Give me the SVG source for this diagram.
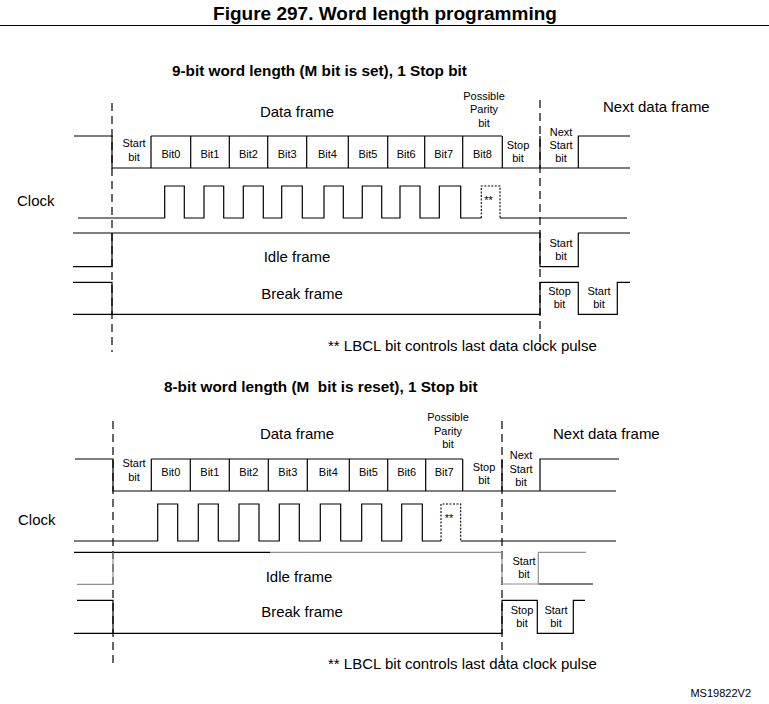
<svg xmlns="http://www.w3.org/2000/svg" width="769" height="704" viewBox="0 0 769 704">
<style>
text{font-family:"Liberation Sans",Arial,sans-serif;fill:#000}
.t{font-size:15px}
.st{font-size:15.3px;font-weight:bold}
.s{font-size:11px;text-anchor:middle}
.c{text-anchor:middle}
.b{font-weight:bold}
.ln{fill:none;stroke:#000;stroke-width:1.2}
.gr{fill:none;stroke:#909090;stroke-width:1.2}
.dot{fill:none;stroke:#000;stroke-width:1.1;stroke-dasharray:2,1.5}
.dash{fill:none;stroke:#000;stroke-width:1.2;stroke-dasharray:8,5}
</style>
<rect width="769" height="704" fill="#fff"/>
<g id="title">
<text x="385" y="20" class="c b" font-size="19">Figure 297. Word length programming</text>
<line x1="0" y1="25.5" x2="769" y2="25.5" stroke="#000" stroke-width="1"/>
</g>

<!-- ===== 9-bit section ===== -->
<g id="sec9-title"><text x="172" y="76" class="st">9-bit word length (M bit is set), 1 Stop bit</text></g>
<g id="connectors9">
<path class="dash" d="M112,103 V352 M540,100 V350"/>
<path class="ln" d="M74,136 H112 V168 H630 M151,136 H502 M151,136 V168 M190.7,136 V168 M229.3,136 V168 M267.7,136 V168 M306.7,136 V168 M348.3,136 V168 M387.7,136 V168 M424.7,136 V168 M462.7,136 V168 M502.3,136 V168 M540,136 V168 M578.3,168 V136 H630"/>
<path class="ln" d="M78,218 H164.7 V186 H184.3 V218 H204 V186 H223.7 V218 H243.3 V186 H263.3 V218 H281.7 V186 H302.3 V218 H324 V186 H343.3 V218 H362.3 V186 H381.7 V218 H400 V186 H420 V218 H439.3 V186 H460.7 V218 H481.3 M500,218 H627"/>
<path class="dot" d="M481.3,218 V186 H500 V218"/>
<path class="ln" d="M73,233 H540 V266.7 H578.3 V233 H630 M73,266.7 H112 V233"/>
<path class="ln" d="M73,282.3 H112 V314.3 H540 V282.3 H578.3 V314.3 H617.3 V282.3 H630 M73,314.3 H112"/>
</g>
<g id="df9-labels">
<text x="297" y="117" class="t c">Data frame</text>
<text x="484" y="100" class="s">Possible</text>
<text x="484" y="113" class="s">Parity</text>
<text x="484" y="127" class="s">bit</text>
<text x="603" y="112" class="t">Next data frame</text>
</g>
<g id="bits9">
<text x="134" y="147" class="s">Start</text><text x="134" y="161" class="s">bit</text>
<text x="171" y="158" class="s">Bit0</text>
<text x="210" y="158" class="s">Bit1</text>
<text x="248.5" y="158" class="s">Bit2</text>
<text x="287.2" y="158" class="s">Bit3</text>
<text x="327.5" y="158" class="s">Bit4</text>
<text x="368" y="158" class="s">Bit5</text>
<text x="406.2" y="158" class="s">Bit6</text>
<text x="443.7" y="158" class="s">Bit7</text>
<text x="482.5" y="158" class="s">Bit8</text>
<text x="518" y="149" class="s">Stop</text><text x="518" y="162" class="s">bit</text>
<text x="561" y="136" class="s">Next</text><text x="561" y="149" class="s">Start</text><text x="561" y="162" class="s">bit</text>
</g>
<g id="clock9">
<text x="17" y="206" class="t">Clock</text>
<text x="488.5" y="204" class="s">**</text>
</g>
<g id="idle9">
<text x="297" y="262" class="t c">Idle frame</text>
<text x="561" y="247" class="s">Start</text><text x="561" y="260" class="s">bit</text>
</g>
<g id="break9">
<text x="302" y="299" class="t c">Break frame</text>
<text x="559.5" y="295" class="s">Stop</text><text x="559.5" y="308" class="s">bit</text>
<text x="599" y="295" class="s">Start</text><text x="599" y="308" class="s">bit</text>
</g>
<g id="note9"><text x="328" y="351" class="t">** LBCL bit controls last data clock pulse</text></g>

<!-- ===== 8-bit section ===== -->
<g id="sec8-title"><text x="164" y="392" class="st" xml:space="preserve">8-bit word length (M  bit is reset), 1 Stop bit</text></g>
<g id="connectors8">
<path class="dash" d="M113,421 V668 M502,421 V668"/>
<path class="ln" d="M75,459 H113 V491 H616 M151.3,459 H462.7 M151.3,459 V491 M190.3,459 V491 M229.3,459 V491 M268.3,459 V491 M307.3,459 V491 M349.3,459 V491 M387.7,459 V491 M425.7,459 V491 M462.7,459 V491 M502,459 V491 M540,491 V459 H619"/>
<path class="ln" d="M74,541 H157.7 V504 H177.7 V541 H198.3 V504 H218.3 V541 H239 V504 H259 V541 H279.3 V504 H299.3 V541 H320.3 V504 H340.7 V541 H361.7 V504 H381.7 V541 H401.7 V504 H422.3 V541 H441 M460.7,541 H616"/>
<path class="dot" d="M441,541 V504 H460.7 V541"/>
<path class="ln" d="M74,552.3 H270 M538.3,584 H593"/>
<path class="gr" d="M270,552.3 H502 V584 H538.3 V552.3 H586 M77,584.3 H113 V552.3"/>
<path class="ln" d="M77,600.3 H113 V633.3 H502 V600.3 H537.3 V633.3 H573.3 V600.3 H585 M74,633.3 H113"/>
</g>
<g id="df8-labels">
<text x="297" y="439" class="t c">Data frame</text>
<text x="448" y="421" class="s">Possible</text>
<text x="448" y="435" class="s">Parity</text>
<text x="448" y="448" class="s">bit</text>
<text x="553" y="439" class="t">Next data frame</text>
</g>
<g id="bits8">
<text x="134" y="467" class="s">Start</text><text x="134" y="481" class="s">bit</text>
<text x="170.8" y="476" class="s">Bit0</text>
<text x="209.8" y="476" class="s">Bit1</text>
<text x="248.8" y="476" class="s">Bit2</text>
<text x="287.8" y="476" class="s">Bit3</text>
<text x="328.3" y="476" class="s">Bit4</text>
<text x="368.5" y="476" class="s">Bit5</text>
<text x="406.7" y="476" class="s">Bit6</text>
<text x="444.2" y="476" class="s">Bit7</text>
<text x="484" y="470.5" class="s">Stop</text><text x="484" y="484" class="s">bit</text>
<text x="521" y="459" class="s">Next</text><text x="521" y="472.5" class="s">Start</text><text x="521" y="486" class="s">bit</text>
</g>
<g id="clock8">
<text x="18" y="525" class="t">Clock</text>
<text x="449" y="522" class="s">**</text>
</g>
<g id="idle8">
<text x="299" y="582" class="t c">Idle frame</text>
<text x="524" y="565" class="s">Start</text><text x="524" y="578" class="s">bit</text>
</g>
<g id="break8">
<text x="302" y="617" class="t c">Break frame</text>
<text x="522" y="614" class="s">Stop</text><text x="522" y="627" class="s">bit</text>
<text x="556" y="614" class="s">Start</text><text x="556" y="627" class="s">bit</text>
</g>
<g id="note8"><text x="328" y="669" class="t">** LBCL bit controls last data clock pulse</text></g>
<g id="ref"><text x="751" y="697" font-size="11" text-anchor="end">MS19822V2</text></g>
</svg>
